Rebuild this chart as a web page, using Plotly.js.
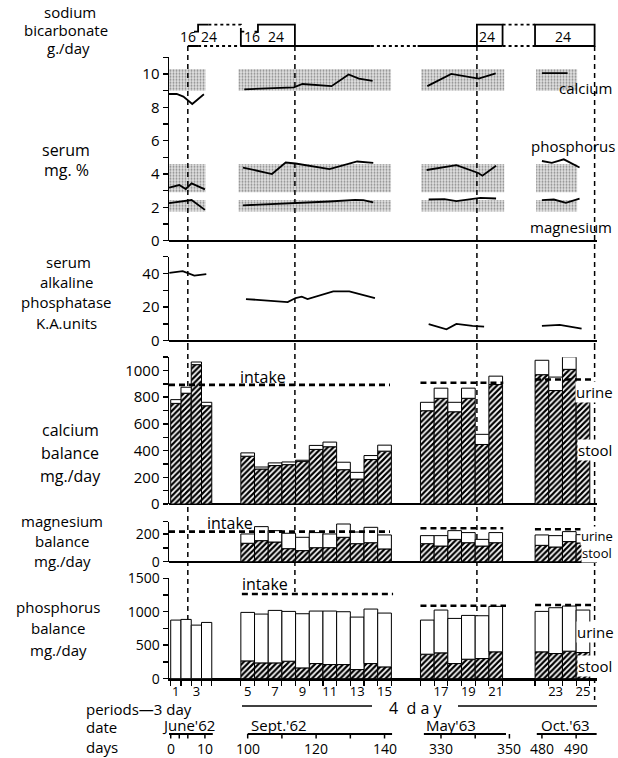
<!DOCTYPE html>
<html><head><meta charset="utf-8">
<script src="https://cdn.plot.ly/plotly-3.0.1.min.js"></script>
<style>html,body{margin:0;padding:0;background:#fff;}#chart{width:618px;height:758px;}</style>
</head><body><div id="chart"></div>
<script>
// ================= DATA =================
const periods = [1,2,3,4,5,6,7,8,9,10,11,12,13,14,15,16,17,18,19,20,21,22,23,24,25];
const periodStartDay = [0,3,6,9, 98,102,106,110,114,118,122,126,130,134,138, 324,328,332,336,340,344, 478,482,486,490];
const periodLength = [3,3,3,3, 4,4,4,4,4,4,4,4,4,4,4, 4,4,4,4,4,4, 4,4,4,4];

// calcium balance mg/day
const caStool = [754,830,1044,736, 358,262,288,295,320,409,429,257,187,333,396, 699,792,691,792,446,895, 969,850,1009,790];
const caUrine = [28,45,20,26, 25,15,20,20,8,30,35,56,50,30,45, 63,76,71,76,76,63, 108,101,93,0];
const caIntake = [893, 908, 933];
const caIntakeFrom = [-0.5, 324, 477.4];
const caIntakeTo = [141.6, 348.2, 494.6];

// magnesium balance mg/day
const mgStool = [null,null,null,null, 133,152,142,94,80,101,101,176,130,137,92, 130,113,161,137,113,137, 118,106,145,135];
const mgUrine = [null,null,null,null, 67,101,82,111,96,109,99,96,84,111,101, 58,75,63,73,48,73, 75,82,72,60];
const mgIntake = [217, 241, 234];
const mgIntakeFrom = [-0.5, 324, 477.1];
const mgIntakeTo = [141.6, 348.2, 493.8];

// phosphorus balance mg/day
const pStool = [null,null,null,null, 265,235,235,260,160,225,210,210,135,225,175, 365,385,225,290,300,400, 400,375,410,390];
const pUrine = [875,885,800,840, 725,730,785,745,810,785,800,790,785,815,805, 510,640,675,655,640,680, 605,685,675,635];
const pIntake = [1265, 1090, 1100];
const pIntakeFrom = [98.3, 324, 478];
const pIntakeTo = [142.5, 349, 494.5];

// serum mg % (sampling day, value); null breaks between studies
const serumCaDay = [-0.5,1.75,3.7,6.3,9.7, null, 99,113.5,116,124.5,129.5,132.5,136.5, null, 326,333,341,346, null, 480,487.5];
const serumCa    = [8.8,8.8,8.64,8.2,8.78, null, 9.08,9.2,9.4,9.27,9.97,9.72,9.58, null, 9.27,10.0,9.72,10.03, null, 10.05,10.05];
const serumPDay  = [-0.5,2.5,4.4,6.1,10.0, null, 98.6,107.1,111.1,114.0,123.9,132.0,136.7, null, 325.8,334.5,340.9,342.1,346.1, null, 480,482.9,486.4,491];
const serumP     = [3.18,3.34,3.1,3.44,3.08, null, 4.39,4.0,4.69,4.63,4.29,4.75,4.67, null, 4.24,4.53,4.06,3.9,4.49, null, 4.78,4.67,4.88,4.39];
const serumMgDay = [-0.5,6.1,10.0, null, 98.6,114.0,123.9,131.4,133.8,136.7, null, 326.4,331,334.5,341.5,346.1, null, 480,483.5,487,491];
const serumMg    = [2.25,2.44,1.85, null, 2.12,2.25,2.35,2.45,2.43,2.3, null, 2.47,2.49,2.37,2.57,2.53, null, 2.43,2.47,2.27,2.53];

// normal ranges (shaded) and the study spans they cover
const normalCa = [9.0, 10.3];
const normalP = [2.9, 4.6];
const normalMg = [1.75, 2.44];
const bandFromDay = [-0.5, 97.3, 324.2, 478.3];
const bandToDay = [10.2, 141.9, 348.5, 490.3];

// serum alkaline phosphatase K.A. units
const alkDay = [-0.4,3.5,6.9,10.4, null, 99.5,111.7,114.0,115.8,117.5,125.0,129.7,137.2, null, 326.4,331.6,334.5,339.2,342.6, null, 480,485.2,491.6];
const alkPhos = [40.4,41.4,38.8,39.6, null, 24.8,23.0,25.4,26.2,24.8,29.4,29.4,25.4, null, 9.8,6.8,10.0,8.8,8.4, null, 8.8,9.4,7.2];

// sodium bicarbonate g/day schedule (solid = recorded, dotted = between studies)
const bicarbSolidDay  = [5,8, null, 6.8,8,8,11, null, 98,98,99, null, 102,103,103,113.8,113.8, null, 98,136, null, 301,348, null, 340.5,340.5,348,348, null, 477.7,477.7,495.4,495.4,477.7];
const bicarbSolidDose = [0,0, null, 16,16,24,24, null, 0,16,16, null, 16,16,24,24,0, null, 0,0, null, 0,0, null, 0,24,24,0, null, 0,24,24,0,0];
const bicarbDotDay  = [11,98,98, null, 8,98, null, 136,301, null, 348,477.7, null, 348,477.7];
const bicarbDotDose = [24,24,16, null, 0,0, null, 0,0, null, 24,24, null, 0,0];
const bicarbChangeDay = [5, 113.8, 340.5, 495.4];
const bicarbLabels = [{day:5.0,text:'16'},{day:11.2,text:'24'},{day:101.3,text:'16'},{day:108.3,text:'24'},{day:343.4,text:'24'},{day:486.2,text:'24'}];

// bottom axis text
const periodLabels = periods.map(p => (p % 2 === 1 ? String(p) : ''));
const dayTicks = [0,2.5,5,10, 100,110,120,130,140, 330,340,350, 480,490];
const dayLabels = [0,10,100,120,140,330,350,480,490];
const daySegFrom = [-1.4, 100, 325, 478.5];
const daySegTo = [12.3, 142.2, 349, 496];

// ================= LAYOUT HELPERS =================
const H = 758, W = 618, L = 169, R = 597;
const FONT = 'Open Sans, Liberation Sans, sans-serif';
const dayAnchors = [-10, 14, 97, 144, 324, 352, 478, 500];
const posAnchors = [-10, 14, 19.5, 66.5, 73, 101, 106.5, 128.5];
function toX(d){
  if (d === null || d === undefined) return null;
  for (let i = 0; i < dayAnchors.length - 1; i++) {
    if (d <= dayAnchors[i+1] || i === dayAnchors.length - 2) {
      const t = (d - dayAnchors[i]) / (dayAnchors[i+1] - dayAnchors[i]);
      return posAnchors[i] + t * (posAnchors[i+1] - posAnchors[i]);
    }
  }
}
const px = p => (p - L) / (R - L);
const py = p => (H - p) / H;
const dom = (bottom, top) => [py(bottom), py(top)];

const pCenter = periodStartDay.map((s,i) => toX(s + periodLength[i]/2));
const pWidth = periodStartDay.map((s,i) => toX(s + periodLength[i]) - toX(s));
const boundaries = [];
periodStartDay.forEach((s,i) => { [toX(s), toX(s+periodLength[i])].forEach(v => { if (!boundaries.some(b => Math.abs(b-v) < 1e-6)) boundaries.push(v); }); });

function segs(from, to, vals){
  const x = [], y = [];
  vals.forEach((v,i) => { x.push(toX(from[i]), toX(to[i]), null); y.push(v, v, null); });
  return {x, y};
}

const hatch = {shape:'/', fgcolor:'black', bgcolor:'white', size:4, solidity:0.55};
const traces = [];

// serum normal bands
[normalCa, normalP, normalMg].forEach(rng => {
  traces.push({type:'bar', xaxis:'x', yaxis:'y5',
    x: bandFromDay.map((f,i) => (toX(f)+toX(bandToDay[i]))/2),
    width: bandFromDay.map((f,i) => toX(bandToDay[i]) - toX(f)),
    base: bandFromDay.map(() => rng[0]),
    y: bandFromDay.map(() => rng[1]-rng[0]),
    marker:{color:'#dcdcdc', line:{width:0}, pattern:{shape:'.', fgcolor:'#8a8a8a', bgcolor:'#e2e2e2', size:3, solidity:0.35}},
    hoverinfo:'skip', showlegend:false});
});
// serum lines
[[serumCaDay,serumCa],[serumPDay,serumP],[serumMgDay,serumMg]].forEach(([d,v]) => {
  traces.push({type:'scatter', mode:'lines', xaxis:'x', yaxis:'y5', x:d.map(toX), y:v,
    line:{color:'black', width:1.8}, connectgaps:false, showlegend:false, hoverinfo:'skip'});
});
// alkaline phosphatase
traces.push({type:'scatter', mode:'lines', xaxis:'x', yaxis:'y4', x:alkDay.map(toX), y:alkPhos,
  line:{color:'black', width:1.8}, connectgaps:false, showlegend:false, hoverinfo:'skip'});

// balance bars
function balance(stool, urine, ax){
  traces.push({type:'bar', xaxis:'x', yaxis:ax, x:pCenter, width:pWidth, base:pCenter.map(()=>0), y:stool,
    marker:{color:'white', line:{color:'black', width:1}, pattern:hatch}, cliponaxis:false, showlegend:false, hoverinfo:'skip'});
  traces.push({type:'bar', xaxis:'x', yaxis:ax, x:pCenter, width:pWidth,
    base: stool.map(s => (s === null ? 0 : s)), y:urine,
    marker:{color:'white', line:{color:'black', width:1}}, cliponaxis:false, showlegend:false, hoverinfo:'skip'});
}
balance(caStool, caUrine, 'y3');
balance(mgStool, mgUrine, 'y2');
balance(pStool, pUrine, 'y');

// intake dashed lines
[[caIntakeFrom,caIntakeTo,caIntake,'y3'],[mgIntakeFrom,mgIntakeTo,mgIntake,'y2'],[pIntakeFrom,pIntakeTo,pIntake,'y']].forEach(([f,t,v,ax]) => {
  const s = segs(f,t,v);
  traces.push({type:'scatter', mode:'lines', xaxis:'x', yaxis:ax, x:s.x, y:s.y,
    line:{color:'black', width:2.6, dash:'6px,4px'}, connectgaps:false, showlegend:false, hoverinfo:'skip'});
});

// sodium bicarbonate schedule
traces.push({type:'scatter', mode:'lines', xaxis:'x', yaxis:'y6', x:bicarbSolidDay.map(toX), y:bicarbSolidDose,
  line:{color:'black', width:1.8}, connectgaps:false, showlegend:false, hoverinfo:'skip'});
traces.push({type:'scatter', mode:'lines', xaxis:'x', yaxis:'y6', x:bicarbDotDay.map(toX), y:bicarbDotDose,
  line:{color:'black', width:1.8, dash:'dot'}, connectgaps:false, showlegend:false, hoverinfo:'skip'});

// ================= AXES =================
const yBase = {anchor:'x', showline:true, linecolor:'black', linewidth:1.5, ticks:'outside', ticklen:5, tickwidth:1.5,
  tickcolor:'black', showgrid:false, zeroline:true, zerolinecolor:'black', zerolinewidth:2,
  tickfont:{family:FONT, size:15, color:'black'}, tickmode:'array', fixedrange:true};
const smallTicks = {tickfont:{family:FONT, size:14, color:'black'}};
function ticksOf(max, step, labelEvery){
  const v = [], t = [];
  for (let k = 0; k <= max + 1e-9; k += step) { v.push(k); t.push(Math.round(k/step) % labelEvery === 0 ? String(k) : ''); }
  return {tickvals:v, ticktext:t};
}

const layout = {
  width:W, height:H, margin:{l:L, r:W-R, t:0, b:0}, paper_bgcolor:'white', plot_bgcolor:'rgba(0,0,0,0)',
  barmode:'overlay', showlegend:false, font:{family:FONT, color:'black'},
  xaxis:{domain:[0,1], range:[toX(-0.5), 124.6], anchor:'y', showline:true, linecolor:'black', linewidth:2,
    showgrid:false, zeroline:false, tickmode:'array', tickvals:pCenter, ticktext:periodLabels, ticks:'',
    tickfont:{family:FONT, size:13, color:'black'},
    minor:{tickmode:'array', tickvals:boundaries, ticks:'outside', ticklen:5, tickwidth:1.2, tickcolor:'black', showgrid:false},
    fixedrange:true},
  yaxis: Object.assign({}, yBase, {domain:dom(678.6,578.3), range:[0,1500]}, ticksOf(1500,250,2), smallTicks),
  yaxis2: Object.assign({}, yBase, {domain:dom(561.7,521.5), range:[0,290], tickvals:[0,100,200,290], ticktext:['0','','200','']}, smallTicks),
  yaxis3: Object.assign({}, yBase, {domain:dom(504,357.2), range:[0,1100]}, ticksOf(1100,100,2)),
  yaxis4: Object.assign({}, yBase, {domain:dom(340.7,256.7), range:[0,50]}, ticksOf(50,10,2)),
  yaxis5: Object.assign({}, yBase, {domain:dom(240.7,57.3), range:[0,11]}, ticksOf(11,1,2)),
  yaxis6: {anchor:'x', domain:dom(46.9,23.6), range:[-1,25], visible:false, fixedrange:true},
  shapes:[], annotations:[]
};

// dashed lines where bicarbonate dose changed
const dashEnd = [680, 592, 680, 700];
bicarbChangeDay.forEach((d,i) => {
  const x = toX(d);
  layout.shapes.push({type:'line', xref:'x', yref:'paper', x0:x, x1:x, y0:py(46), y1:py(345), layer:'above', line:{color:'black', width:1.5, dash:'5px,4px'}});
  layout.shapes.push({type:'line', xref:'x', yref:'paper', x0:x, x1:x, y0:py(345), y1:py(dashEnd[i]), layer:'below', line:{color:'black', width:1.5, dash:'5px,4px'}});
});

// bicarbonate dose labels
bicarbLabels.forEach(b => layout.annotations.push({xref:'x', yref:'y6', x:toX(b.day), y:10.5, text:b.text, showarrow:false,
  font:{family:FONT, size:14, color:'black'}, xanchor:'center', yanchor:'middle'}));

function lab(text, x, y, size, anchor, extra){
  layout.annotations.push(Object.assign({xref:'paper', yref:'paper', x:px(x), y:py(y), text:text, showarrow:false,
    xanchor:anchor || 'center', yanchor:'middle', font:{family:FONT, size:size || 16, color:'black'}}, extra || {}));
}
const tight = {borderpad:0};
// left titles
lab('sodium', 70, 12, 15, 'center', tight); lab('bicarbonate', 66, 30, 15, 'center', tight); lab('g./day', 68, 48, 15, 'center', tight);
lab('serum', 66, 150); lab('mg. %', 66, 170);
lab('serum', 68, 262, 15); lab('alkaline', 67, 282, 15); lab('phosphatase', 66, 302, 15); lab('K.A.units', 66, 323, 15);
lab('calcium', 70, 430); lab('balance', 70, 453); lab('mg./day', 70, 476);
lab('magnesium', 62, 521, 15); lab('balance', 62, 541, 15); lab('mg./day', 62, 561, 15);
lab('phosphorus', 58, 607, 15); lab('balance', 58, 628, 15); lab('mg./day', 58, 650, 15);
// right labels
lab('calcium', 614, 88, 15, 'right');
lab('phosphorus', 617, 146, 15, 'right');
lab('magnesium', 614, 227, 15, 'right');
const wb = {bgcolor:'white', borderpad:0};
lab('urine', 614, 392, 15, 'right', wb); lab('stool', 613, 450, 15, 'right', wb);
lab('urine', 614, 536, 13, 'right', wb); lab('stool', 613, 553, 13, 'right', wb);
lab('urine', 615, 632, 15, 'right', wb); lab('stool', 613, 666, 15, 'right', wb);
// intake labels
lab('intake', 263, 377, 16); lab('intake', 230, 523, 16); lab('intake', 265, 584, 16);

// bottom rows
lab('periods—3 day', 84, 709, 15, 'left');
lab('4  d a y', 415, 708, 16);
layout.shapes.push({type:'line', xref:'paper', yref:'paper', x0:px(242), x1:px(372), y0:py(706), y1:py(706), line:{color:'black', width:1.5}});
layout.shapes.push({type:'line', xref:'paper', yref:'paper', x0:px(458), x1:px(597), y0:py(706), y1:py(706), line:{color:'black', width:1.5}});
lab('date', 84, 727, 15, 'left');
lab('days', 84, 747, 15, 'left');
lab("June'62", 188, 725, 15); lab("Sept.'62", 279, 725, 15); lab("May'63", 451, 725, 15); lab("Oct.'63", 565, 725, 15);
daySegFrom.forEach((f,i) => layout.shapes.push({type:'line', xref:'x', yref:'paper', x0:toX(f), x1:toX(daySegTo[i]), y0:py(734), y1:py(734), line:{color:'black', width:2}}));
dayTicks.forEach(d => layout.shapes.push({type:'line', xref:'x', yref:'paper', x0:toX(d), x1:toX(d), y0:py(734), y1:py(738.5), line:{color:'black', width:1.5}}));
dayLabels.forEach(d => layout.annotations.push({xref:'x', yref:'paper', x:toX(d), y:py(748), text:String(d), showarrow:false,
  xanchor:'center', yanchor:'middle', font:{family:FONT, size:14, color:'black'}}));

Plotly.newPlot('chart', traces, layout, {staticPlot:true, displayModeBar:false});
</script>
</body></html>
